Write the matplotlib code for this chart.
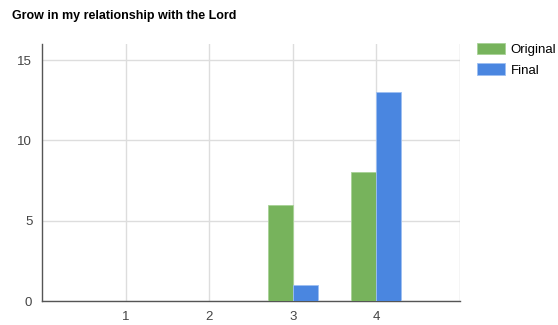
import matplotlib.pyplot as plt
import numpy as np

plt.rcParams['font.family'] = ['Liberation Sans', 'DejaVu Sans']

categories = ['1', '2', '3', '4']
original = [0, 0, 6, 8]
final = [0, 0, 1, 13]
yticks = [0, 5, 10, 15]

green = '#77b35c'
blue = '#4a86e0'

fig = plt.figure(figsize=(5.58, 3.25), dpi=100)
ax = fig.add_axes([0.0753, 0.0738, 0.749, 0.791])

x = np.arange(1, len(categories) + 1)
w = 0.3
ax.bar(x - w / 2, original, w, color=green, edgecolor='#a8d296', linewidth=0.6, label='Original', zorder=3)
ax.bar(x + w / 2, final, w, color=blue, edgecolor='#9dbff2', linewidth=0.6, label='Final', zorder=3)

ax.set_xlim(0, 5)
ax.set_ylim(0, 16)
ax.set_xticks(x)
ax.set_xticklabels(categories)
ax.set_yticks(yticks)
ax.tick_params(length=0, labelsize=9.5, colors='#444444', pad=7)

ax.set_axisbelow(True)
ax.grid(True, color='#dddddd', linewidth=1)
ax.axvline(5, color='#cccccc', linewidth=1)
for s in ['top', 'right']:
    ax.spines[s].set_visible(False)
for s in ['left', 'bottom']:
    ax.spines[s].set_color('#555555')
    ax.spines[s].set_linewidth(1)

fig.text(0.0215, 0.952, 'Grow in my relationship with the Lord', fontsize=9,
         fontweight='bold', ha='left', va='center')

leg = ax.legend(loc='upper left', bbox_to_anchor=(1.012, 1.05), frameon=False,
                fontsize=9.5, handlelength=2.1, handleheight=0.95, handletextpad=0.45,
                labelspacing=0.55)

fig.savefig('out.png', dpi=100)
